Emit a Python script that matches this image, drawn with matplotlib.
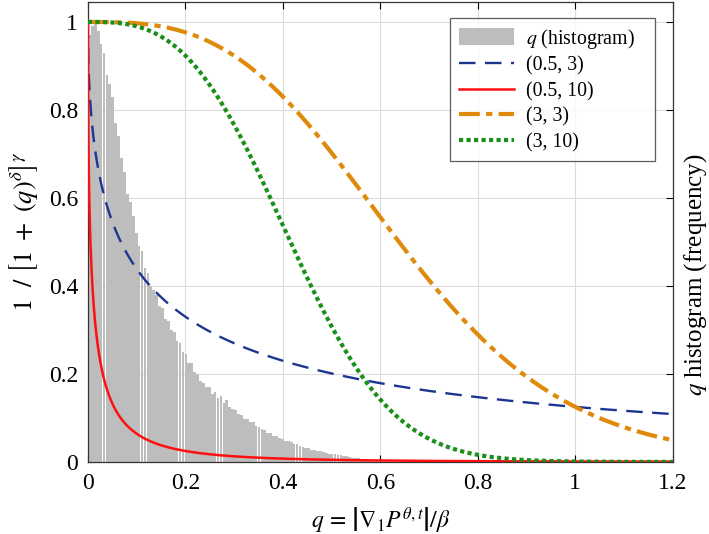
import numpy as np
import matplotlib
matplotlib.use("Agg")
import matplotlib.pyplot as plt
from matplotlib.ticker import FuncFormatter
from matplotlib.patches import Patch

plt.rcParams['font.family'] = ['Liberation Serif', 'DejaVu Serif']
plt.rcParams['mathtext.fontset'] = 'stix'

# histogram of q (normalised frequency), bin width and heights
hist_bin_width = 0.006
hist_heights = [
    0.97, 0.99, 1.00, 0.98, 0.95, 0.93, 0.88, 0.86, 0.83, 0.77,
    0.74, 0.69, 0.66, 0.61, 0.59, 0.56, 0.52, 0.49, 0.48, 0.44,
    0.43, 0.40, 0.39, 0.38, 0.355, 0.35, 0.325, 0.32, 0.30, 0.295,
    0.275, 0.27, 0.25, 0.245, 0.225, 0.225, 0.205, 0.20, 0.185, 0.18,
    0.17, 0.17, 0.155, 0.16, 0.145, 0.15, 0.135, 0.14, 0.125, 0.12,
    0.118, 0.108, 0.107, 0.098, 0.097, 0.09, 0.09, 0.081, 0.08, 0.074,
    0.073, 0.066, 0.066, 0.06, 0.059, 0.054, 0.053, 0.048, 0.047, 0.045,
    0.041, 0.04, 0.036, 0.035, 0.031, 0.031, 0.028, 0.028, 0.025, 0.025,
    0.022, 0.021, 0.019, 0.019, 0.017, 0.016, 0.015, 0.013, 0.013, 0.011,
    0.010, 0.009, 0.008, 0.007, 0.006, 0.005, 0.004, 0.003, 0.002,
]

# curve parameters (delta, gamma) for 1/[1+q^delta]^gamma
deltas = [0.5, 0.5, 3, 3]
gammas = [3, 10, 3, 10]
labels = ['(0.5, 3)', '(0.5, 10)', '(3, 3)', '(3, 10)']
colors = ['#1c3591', '#ff1010', '#e08a0b', '#1a8f1a']
styles = [(0, (7, 4)), '-', (0, (5, 1.5, 1.5, 1.5)), (0, (1, 0.8))]
widths = [1.7, 1.8, 3.0, 3.0]

x_ticks = [0, 0.2, 0.4, 0.6, 0.8, 1, 1.2]
y_ticks = [0, 0.2, 0.4, 0.6, 0.8, 1]

fig = plt.figure(figsize=(7.09, 5.34), dpi=100)
ax = fig.add_axes([0.124, 0.135, 0.825, 0.861])

centers = hist_bin_width * (np.arange(len(hist_heights)) + 0.5)
ax.bar(centers, hist_heights, width=hist_bin_width * 0.93, color='#bdbdbd',
       edgecolor='none', zorder=2)

q = np.linspace(0, 1.2, 3000)
for d, g, lab, c, ls, lw in zip(deltas, gammas, labels, colors, styles, widths):
    ax.plot(q, 1.0 / (1.0 + q ** d) ** g, color=c, linestyle=ls, linewidth=lw,
            label=lab, zorder=3)

ax.set_xlim(0, 1.2)
ax.set_ylim(0, 1.045)
ax.set_xticks(x_ticks)
ax.set_yticks(y_ticks)
fmt = FuncFormatter(lambda v, p: ('%g' % v))
ax.xaxis.set_major_formatter(fmt)
ax.yaxis.set_major_formatter(fmt)
ax.grid(True, color='#dcdcdc', linewidth=0.8, zorder=0)
ax.set_axisbelow(True)
ax.tick_params(direction='in', top=True, right=True, labelsize=17, length=5,
               width=0.8)
ax.tick_params(axis='x', pad=8)
ax.tick_params(axis='y', pad=7)
for s in ax.spines.values():
    s.set_linewidth(0.9)
    s.set_color('#333333')

ax.set_xlabel(r'$q\,=\,\left|\nabla_1 P^{\theta,t}\right|/\beta$', fontsize=17, labelpad=8)
ax.set_ylabel(r'$1\ \ /\ \left[1\ +\ (q)^{\delta}\right]^{\gamma}$', fontsize=19, labelpad=6)

fig.text(0.981, 0.485, r'$q$ histogram (frequency)', rotation=90, fontsize=18,
         ha='center', va='center')

handles, labs = ax.get_legend_handles_labels()
hist_patch = Patch(facecolor='#bdbdbd', edgecolor='none')
leg = ax.legend([hist_patch] + handles, [r'$q$ (histogram)   '] + labs,
                loc='upper right', bbox_to_anchor=(0.986, 0.988), fontsize=14.3,
                frameon=True, fancybox=False, edgecolor='#333333',
                handlelength=2.8, handleheight=0.9, labelspacing=0.27,
                borderpad=0.45, handletextpad=0.6)
leg.get_frame().set_linewidth(0.9)
leg.set_zorder(5)

fig.savefig('out.png', dpi=100)
